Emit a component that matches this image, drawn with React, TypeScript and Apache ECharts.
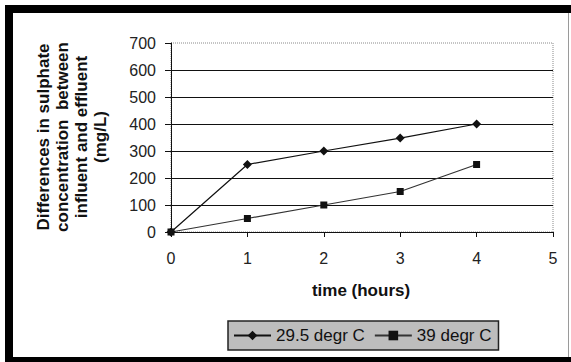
import React, { useEffect, useRef } from "react";
import * as echarts from "echarts";

// Sulphate removal over time at two temperatures
const hours = [0, 1, 2, 3, 4];
const temp295 = [0, 250, 300, 348, 400];
const temp39 = [0, 50, 100, 150, 250];
const seriesNames = ["29.5 degr C", "39 degr C"];
const yTitle = "Differences in sulphate\nconcentration  between\ninfluent and effluent\n(mg/L)";
const xTitle = "time (hours)";

const FONT = "'Liberation Sans', Arial, sans-serif";

export default function App() {
  const ref = useRef<HTMLDivElement>(null);

  useEffect(() => {
    if (!ref.current) return;
    const chart = echarts.init(ref.current, undefined, { renderer: "svg" });
    const pair = (xs: number[], ys: number[]) => xs.map((x, i) => [x, ys[i]]);

    chart.setOption({
      animation: false,
      backgroundColor: "#ffffff",
      textStyle: { fontFamily: FONT },
      grid: {
        left: 171,
        right: 18,
        top: 43,
        bottom: 130,
        show: true,
        borderColor: "#8a8a8a",
        borderWidth: 1,
        borderType: "dotted",
        outerBoundsMode: "none",
      },
      xAxis: {
        type: "value",
        min: 0,
        max: 5,
        interval: 1,
        axisLine: { show: true, onZero: false, lineStyle: { color: "#111", width: 1 } },
        axisTick: { show: true, length: 5, lineStyle: { color: "#111" } },
        axisLabel: { color: "#222", fontSize: 16, margin: 18, fontFamily: FONT },
        splitLine: { show: false },
      },
      yAxis: {
        type: "value",
        min: 0,
        max: 700,
        interval: 100,
        axisLine: { show: true, lineStyle: { color: "#111", width: 1 } },
        axisTick: { show: true, length: 6, lineStyle: { color: "#111" } },
        axisLabel: { color: "#222", fontSize: 16, margin: 15, fontFamily: FONT },
        splitLine: {
          show: true,
          showMinLine: false,
          showMaxLine: false,
          lineStyle: { color: "#111", width: 1 },
        },
      },
      legend: {
        left: 228,
        top: 321,
        orient: "horizontal",
        itemWidth: 37,
        itemHeight: 12,
        itemGap: 9,
        padding: [6, 7, 6, 5],
        backgroundColor: "#bdbdbd",
        borderColor: "#222",
        borderWidth: 1.5,
        textStyle: { color: "#111", fontSize: 17, fontFamily: FONT },
        data: seriesNames,
      },
      series: [
        {
          name: seriesNames[0],
          type: "line",
          data: pair(hours, temp295),
          symbol: "diamond",
          symbolSize: 9,
          showAllSymbol: true,
          lineStyle: { color: "#111", width: 1.2 },
          itemStyle: { color: "#111" },
        },
        {
          name: seriesNames[1],
          type: "line",
          data: pair(hours, temp39),
          symbol: "rect",
          symbolSize: 7,
          showAllSymbol: true,
          lineStyle: { color: "#333", width: 1.2 },
          itemStyle: { color: "#111" },
        },
      ],
      graphic: [
        // outer frame
        { type: "rect", shape: { x: 5, y: 5, width: 8, height: 357 }, style: { fill: "#000" } },
        { type: "rect", shape: { x: 5, y: 5, width: 566, height: 8 }, style: { fill: "#000" } },
        { type: "rect", shape: { x: 5, y: 357, width: 566, height: 5 }, style: { fill: "#000" } },
        { type: "rect", shape: { x: 568, y: 13, width: 1, height: 344 }, style: { fill: "#9a9a9a" } },
        {
          type: "text",
          x: 72,
          y: 137,
          rotation: Math.PI / 2,
          style: {
            text: yTitle,
            fontSize: 17,
            fontWeight: "bold",
            fontFamily: FONT,
            lineHeight: 19,
            fill: "#111",
            align: "center",
            verticalAlign: "middle",
          },
        },
        {
          type: "text",
          x: 361,
          y: 290,
          style: {
            text: xTitle,
            fontSize: 17,
            fontWeight: "bold",
            fontFamily: FONT,
            fill: "#111",
            align: "center",
            verticalAlign: "middle",
          },
        },
      ],
    });

    return () => chart.dispose();
  }, []);

  return (
    <div
      ref={ref}
      style={{ position: "absolute", left: 0, top: 0, width: 571, height: 362 }}
    />
  );
}
